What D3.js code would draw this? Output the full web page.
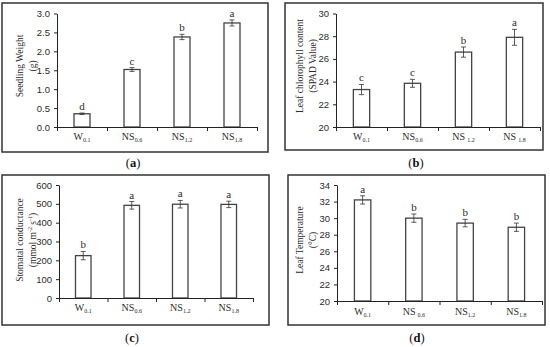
<!DOCTYPE html>
<html>
<head>
<meta charset="utf-8">
<script src="https://cdn.jsdelivr.net/npm/d3@7"></script>
<style>
  body { margin: 0; background: #fff; }
  svg { display: block; font-family: "Liberation Serif", "DejaVu Serif", serif; }
</style>
</head>
<body>
<svg width="550" height="347"></svg>
<script>
// categories (base + subscript)
const catBase = ['W', 'NS', 'NS', 'NS'];
const catSub = ['0.1', '0.6', '1.2', '1.8'];

// (a) seedling weight
const weightVals = [0.35, 1.52, 2.38, 2.75];
const weightErr = [0.02, 0.05, 0.07, 0.08];
const weightLetters = ['d', 'c', 'b', 'a'];
const weightTicks = [0, 0.5, 1.0, 1.5, 2.0, 2.5, 3.0];

// (b) chlorophyll
const spadVals = [23.3, 23.85, 26.6, 27.9];
const spadErr = [0.45, 0.35, 0.45, 0.7];
const spadLetters = ['c', 'c', 'b', 'a'];
const spadTicks = [20, 22, 24, 26, 28, 30];

// (c) stomatal conductance
const condVals = [225, 492, 498, 497];
const condErr = [22, 20, 20, 17];
const condLetters = ['b', 'a', 'a', 'a'];
const condTicks = [0, 100, 200, 300, 400, 500, 600];

// (d) leaf temperature
const tempVals = [32.2, 30.0, 29.4, 28.9];
const tempErr = [0.5, 0.5, 0.45, 0.5];
const tempLetters = ['a', 'b', 'b', 'b'];
const tempTicks = [20, 22, 24, 26, 28, 30, 32, 34];

const svg = d3.select('svg');
const ink = '#2b2b2b';

const panels = [
  {vals: weightVals, err: weightErr, letters: weightLetters, ticks: weightTicks, fmt: d3.format('.1f'),
   frame: [2, 3, 268, 152], x0: 57, x1: 257, yTop: 13.5, yBot: 127, labY: 140,
   title: ['Seedling Weight', '(g)'], tx: 23, ty: 66, cap: 'a', capX: 133, capY: 167, gaps: [0, 0, 0, 0]},
  {vals: spadVals, err: spadErr, letters: spadLetters, ticks: spadTicks, fmt: d3.format('d'),
   frame: [285, 3, 543, 150], x0: 336, x1: 540, yTop: 13.5, yBot: 127, labY: 140,
   title: ['Leaf chlorophyll content', '(SPAD Value)'], tx: 303, ty: 66, cap: 'b', capX: 416, capY: 167, gaps: [0, 0, 2, 2]},
  {vals: condVals, err: condErr, letters: condLetters, ticks: condTicks, fmt: d3.format('d'),
   frame: [2, 175, 269, 325], x0: 59, x1: 253, yTop: 185, yBot: 298, labY: 311,
   title: ['Stomatal conductance', '(mmol m-2 s-1)'], tx: 23, ty: 240, cap: 'c', capX: 132, capY: 342, gaps: [0, 0, 0, 0]},
  {vals: tempVals, err: tempErr, letters: tempLetters, ticks: tempTicks, fmt: d3.format('d'),
   frame: [288, 175, 545, 325], x0: 337, x1: 542, yTop: 185, yBot: 301, labY: 315,
   title: ['Leaf Temperature', '(°C)'], tx: 303, ty: 240, cap: 'd', capX: 417, capY: 342, gaps: [0, 2, 0, 0]}
];

panels.forEach(p => {
  const g = svg.append('g');

  // frame
  g.append('rect')
    .attr('x', p.frame[0]).attr('y', p.frame[1])
    .attr('width', p.frame[2] - p.frame[0]).attr('height', p.frame[3] - p.frame[1])
    .attr('fill', 'none').attr('stroke', '#333').attr('stroke-width', 1.5);

  const x = d3.scaleBand().domain(d3.range(catBase.length)).range([p.x0, p.x1]).padding(0);
  const xb = d3.scaleLinear().domain([0, catBase.length]).range([p.x0, p.x1]);
  const y = d3.scaleLinear().domain(d3.extent(p.ticks)).range([p.yBot, p.yTop]);
  const bw = x.bandwidth() * 0.32;

  // bars
  g.selectAll('.bar').data(p.vals).enter().append('rect')
    .attr('x', (d, i) => x(i) + x.bandwidth() / 2 - bw / 2)
    .attr('y', d => y(d))
    .attr('width', bw)
    .attr('height', d => p.yBot - y(d))
    .attr('fill', '#fff').attr('stroke', '#444').attr('stroke-width', 1.3);

  // error bars
  const cx = i => x(i) + x.bandwidth() / 2;
  p.vals.forEach((v, i) => {
    const e = p.err[i];
    g.append('line').attr('x1', cx(i)).attr('x2', cx(i))
      .attr('y1', y(v - e)).attr('y2', y(v + e)).attr('stroke', '#333').attr('stroke-width', 0.8);
    [v - e, v + e].forEach(t => {
      g.append('line').attr('x1', cx(i) - 2.5).attr('x2', cx(i) + 2.5)
        .attr('y1', y(t)).attr('y2', y(t)).attr('stroke', '#333').attr('stroke-width', 0.8);
    });
    g.append('text').attr('x', cx(i)).attr('y', y(v + e) - 3)
      .attr('text-anchor', 'middle').attr('font-size', 11).attr('fill', ink)
      .text(p.letters[i]);
  });

  // y axis
  const ya = g.append('g').attr('transform', `translate(${p.x0},0)`)
    .call(d3.axisLeft(y).tickValues(p.ticks).tickFormat(p.fmt).tickSize(3).tickSizeOuter(0).tickPadding(4));
  ya.selectAll('text').attr('font-size', 9.5).attr('fill', ink).style('font-family', 'inherit');
  ya.selectAll('line, path').attr('stroke', '#222');

  // x axis with ticks at band edges
  const xa = g.append('g').attr('transform', `translate(0,${p.yBot})`)
    .call(d3.axisBottom(xb).ticks(catBase.length).tickFormat('').tickSize(4).tickSizeOuter(0));
  xa.selectAll('line, path').attr('stroke', '#222');

  // category labels
  catBase.forEach((c, i) => {
    const t = g.append('text').attr('x', cx(i)).attr('y', p.labY)
      .attr('text-anchor', 'middle').attr('font-size', 10).attr('fill', ink);
    t.append('tspan').text(c);
    t.append('tspan').attr('font-size', 6).attr('dy', 2).attr('dx', p.gaps[i]).text(catSub[i]);
  });

  // axis title
  const tt = g.append('text').attr('transform', `translate(${p.tx},${p.ty}) rotate(-90)`)
    .attr('text-anchor', 'middle').attr('font-size', 9.5).attr('fill', ink);
  tt.append('tspan').attr('x', 0).attr('dy', 0).text(p.title[0]);
  if (p.title[1].startsWith('(mmol')) {
    const l2 = tt.append('tspan').attr('x', 0).attr('dy', 12.5);
    l2.append('tspan').text('(mmol m');
    l2.append('tspan').attr('font-size', 6).attr('dy', -4).text('-2');
    l2.append('tspan').attr('dy', 4).text(' s');
    l2.append('tspan').attr('font-size', 6).attr('dy', -4).text('-1');
    l2.append('tspan').attr('dy', 4).text(')');
  } else {
    tt.append('tspan').attr('x', 0).attr('dy', 12.5).text(p.title[1]);
  }

  // caption
  const cap = svg.append('text').attr('x', p.capX).attr('y', p.capY)
    .attr('text-anchor', 'middle').attr('font-size', 12.5).attr('fill', '#111');
  cap.append('tspan').text('(');
  cap.append('tspan').attr('font-weight', 'bold').text(p.cap);
  cap.append('tspan').text(')');
});
</script>
</body>
</html>
